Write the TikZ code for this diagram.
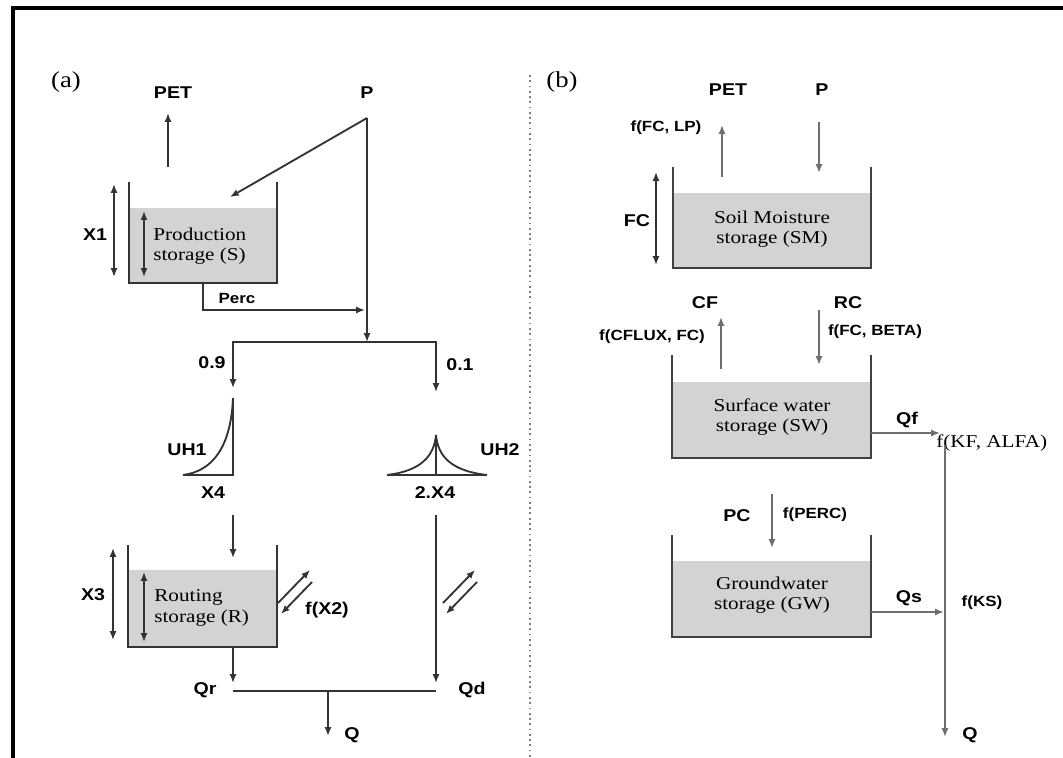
\documentclass[tikz,border=0pt]{standalone}
\usepackage{fontspec}
\setmainfont{Liberation Serif}[FakeStretch=1.17]
\setsansfont{Liberation Sans}[FakeStretch=1.15]
\usetikzlibrary{arrows.meta}
\definecolor{tankgray}{HTML}{D3D3D3}
\definecolor{lineA}{HTML}{333333}
\definecolor{lineB}{HTML}{6E6E6E}
\newcommand{\mytank}[6][lineA]{%
  \fill[tankgray] (#2,#4) rectangle (#5,#6);
  \draw[line width=1.2pt,draw=#1] (#2,#3) -- (#2,#6) -- (#5,#6) -- (#5,#3);}
\begin{document}
\begin{tikzpicture}[x=0.02cm,y=-0.02cm,
  ln/.style={line width=1.05pt, draw=lineA},
  arr/.style={ln,-{Latex[length=5pt,width=4pt]}},
  darr/.style={ln,{Latex[length=5pt,width=4pt]}-{Latex[length=5pt,width=4pt]}},
  barr/.style={arr,draw=lineB},
  frame/.style={line width=2.3pt, draw=black},
  ttl/.style={font=\fontsize{13}{15}\selectfont, inner sep=0pt},
  lab/.style={font=\sffamily\bfseries\fontsize{9.7}{11}\selectfont, inner sep=0pt},
  slab/.style={font=\sffamily\bfseries\fontsize{8.4}{10}\selectfont, inner sep=0pt},
  stxt/.style={font=\fontsize{10.3}{11.6}\selectfont, inner sep=0pt},
]
\useasboundingbox (0,0) rectangle (1063,758);
\draw[frame] (13,758) -- (13,8) -- (1063,8);
\draw[dotted, line width=1pt, draw=gray] (530,75) -- (530,758);

% ================= (a) =================
\node[ttl] (ta) at (66,82) {(a)};
\node[lab] (peta) at (173,93) {PET};
\node[lab] (pa) at (367,93) {P};

\mytank{129}{182}{208}{277}{283}
\node[stxt, anchor=west, align=left] (prod) at (153,246) {Production\\storage (S)};
\coordinate (x1t) at (114,184); \coordinate (x1b) at (114,277);
\draw[darr] (x1t) -- (x1b);
\node[lab] (x1) at (95,235) {X1};
\coordinate (s1t) at (144,211); \coordinate (s1b) at (144,277);
\draw[darr] (s1t) -- (s1b);

\coordinate (petA0) at (168,167); \coordinate (petA1) at (168,113);
\draw[arr] (petA0) -- (petA1);
\coordinate (pTop) at (367,118);
\coordinate (pIn) at (230,197);
\coordinate (pJ) at (367,342);
\draw[arr] (pTop) -- (pIn);
\draw[arr] (pTop) -- (pJ);

\coordinate (percA) at (203,283); \coordinate (percB) at (203,310);
\coordinate (percC) at (365,310);
\draw[arr] (percA) -- (percB) -- (percC);
\node[slab] (perc) at (237,298) {Perc};

\coordinate (brL) at (233,388); \coordinate (brR) at (436,392);
\draw[darr] (brL) -- (233,342) -- (436,342) -- (brR);
\node[lab] (n09) at (212,363) {0.9};
\node[lab] (n01) at (460,365) {0.1};

% UH1
\coordinate (u1top) at (233,398); \coordinate (u1bot) at (233,475);
\coordinate (u1l) at (183,475);
\draw[ln] (u1top) -- (u1bot) -- (u1l);
\draw[ln] (u1l) .. controls (214,471) and (231,445) .. (u1top);
\node[lab] (uh1) at (187,450) {UH1};
\node[lab] (x4) at (213,493) {X4};
% UH2
\coordinate (u2top) at (436,435); \coordinate (u2bot) at (436,475);
\coordinate (u2l) at (387,475); \coordinate (u2r) at (487,475);
\draw[ln] (u2top) -- (u2bot);
\draw[ln] (u2l) -- (u2r);
\draw[ln] (u2l) .. controls (420,471) and (434,457) .. (u2top);
\draw[ln] (u2r) .. controls (452,471) and (438,457) .. (u2top);
\node[lab] (uh2) at (500,450) {UH2};
\node[lab] (x42) at (435,493) {2.X4};

\coordinate (r0) at (233,515); \coordinate (r1) at (233,558);
\draw[arr] (r0) -- (r1);
\coordinate (d0) at (436,515); \coordinate (d1) at (436,683);
\draw[arr] (d0) -- (d1);

\mytank{128}{545}{570}{277}{647}
\node[stxt, anchor=west, align=left] (rout) at (154,608) {Routing\\storage (R)};
\coordinate (x3t) at (113,548); \coordinate (x3b) at (113,640);
\draw[darr] (x3t) -- (x3b);
\node[lab] (x3) at (93,595) {X3};
\coordinate (s3t) at (144,572); \coordinate (s3b) at (144,642);
\draw[darr] (s3t) -- (s3b);

% exchanges
\coordinate (e1a) at (278,603); \coordinate (e1b) at (310,570);
\coordinate (e1c) at (312,582); \coordinate (e1d) at (281,614);
\draw[arr] (e1a) -- (e1b);
\draw[arr] (e1c) -- (e1d);
\node[lab] (fx2) at (327,610) {f(X2)};
\coordinate (e2a) at (443,603); \coordinate (e2b) at (475,570);
\coordinate (e2c) at (477,582); \coordinate (e2d) at (446,614);
\draw[arr] (e2a) -- (e2b);
\draw[arr] (e2c) -- (e2d);

\coordinate (qr0) at (233,647); \coordinate (qr1) at (233,683);
\draw[arr] (qr0) -- (qr1);
\coordinate (hL) at (233,691); \coordinate (hR) at (436,691);
\draw[ln] (hL) -- (hR);
\coordinate (q0) at (328,691); \coordinate (q1) at (328,736);
\draw[arr] (q0) -- (q1);
\node[lab] (qr) at (205,690) {Qr};
\node[lab] (qd) at (472,690) {Qd};
\node[lab] (qa) at (352,735) {Q};

% ================= (b) =================
\node[ttl] (tb) at (562,82) {(b)};
\node[lab] (petb) at (728,90) {PET};
\node[lab] (pb) at (822,90) {P};
\node[slab] (ffclp) at (666,128) {f(FC, LP)};
\coordinate (bp0) at (722,177); \coordinate (bp1) at (722,125);
\draw[barr] (bp0) -- (bp1);
\coordinate (bq0) at (819,122); \coordinate (bq1) at (819,173);
\draw[barr] (bq0) -- (bq1);

\mytank[black!75]{673}{167}{193}{871}{268}
\node[stxt, align=center] (sm) at (772,229) {Soil Moisture\\storage (SM)};
\coordinate (fct) at (656,172); \coordinate (fcb) at (656,265);
\draw[darr] (fct) -- (fcb);
\node[lab] (fc) at (637,221) {FC};

\node[lab] (cf) at (705,303) {CF};
\node[slab] (fcflux) at (652,337) {f(CFLUX, FC)};
\coordinate (cf0) at (721,369); \coordinate (cf1) at (721,317);
\draw[barr] (cf0) -- (cf1);
\node[lab] (rc) at (848,303) {RC};
\node[slab] (ffcbeta) at (875,332) {f(FC, BETA)};
\coordinate (rc0) at (819,310); \coordinate (rc1) at (819,365);
\draw[barr] (rc0) -- (rc1);

\mytank[black!75]{672}{355}{382}{871}{458}
\node[stxt, align=center] (sw) at (772,417) {Surface water\\storage (SW)};

\coordinate (qf0) at (871,433); \coordinate (qf1) at (940,433);
\draw[barr] (qf0) -- (qf1);
\node[lab] (qf) at (907,420) {Qf};
\node[stxt, anchor=west] (fkf) at (936,443) {f(KF, ALFA)};
\coordinate (v0) at (945,446); \coordinate (v1) at (945,737);
\draw[barr] (v0) -- (v1);
\node[lab] (qb) at (970,735) {Q};

\node[lab] (pc) at (737,516) {PC};
\node[slab] (fperc) at (815,515) {f(PERC)};
\coordinate (pc0) at (772,494); \coordinate (pc1) at (772,548);
\draw[barr] (pc0) -- (pc1);

\mytank[black!75]{672}{535}{561}{871}{637}
\node[stxt, align=center] (gw) at (772,595) {Groundwater\\storage (GW)};

\coordinate (qs0) at (871,612); \coordinate (qs1) at (944,612);
\draw[barr] (qs0) -- (qs1);
\node[lab] (qs) at (909,598) {Qs};
\node[slab] (fks) at (982,603) {f(KS)};
\end{tikzpicture}
\end{document}
